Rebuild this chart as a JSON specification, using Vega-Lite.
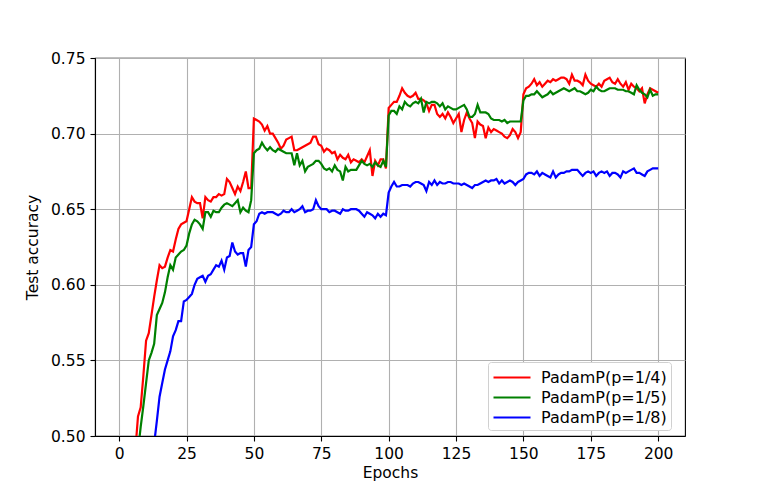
{
"$schema":"https://vega.github.io/schema/vega-lite/v6.json",
"width":590,"height":378,
"autosize":{"type":"none"},
"padding":{"left":95,"top":58,"right":78,"bottom":54},
"background":"white",
"data":{"values":[
{"e":6,"r":0.490,"g":null,"b":null},
{"e":7,"r":0.513,"g":0.490,"b":null},
{"e":8,"r":0.519,"g":0.506,"b":null},
{"e":9,"r":0.540,"g":0.520,"b":null},
{"e":10,"r":0.563,"g":0.535,"b":null},
{"e":11,"r":0.568,"g":0.550,"b":null},
{"e":12,"r":0.580,"g":0.555,"b":null},
{"e":13,"r":0.592,"g":0.561,"b":0.495},
{"e":14,"r":0.603,"g":0.580,"b":0.510},
{"e":15,"r":0.613,"g":0.584,"b":0.526},
{"e":16,"r":0.611,"g":0.588,"b":0.535},
{"e":17,"r":0.612,"g":0.595,"b":0.544},
{"e":18,"r":0.618,"g":0.605,"b":0.550},
{"e":19,"r":0.623,"g":0.613,"b":0.556},
{"e":20,"r":0.622,"g":0.610,"b":0.566},
{"e":21,"r":0.630,"g":0.618,"b":0.570},
{"e":22,"r":0.637,"g":0.620,"b":0.576},
{"e":23,"r":0.640,"g":0.622,"b":0.576},
{"e":24,"r":0.641,"g":0.623,"b":0.589},
{"e":25,"r":0.642,"g":0.626,"b":0.590},
{"e":26,"r":0.650,"g":0.634,"b":0.592},
{"e":27,"r":0.658,"g":0.640,"b":0.594},
{"e":28,"r":0.655,"g":0.643,"b":0.600},
{"e":29,"r":0.654,"g":0.642,"b":0.604},
{"e":30,"r":0.654,"g":0.640,"b":0.605},
{"e":31,"r":0.644,"g":0.637,"b":0.606},
{"e":32,"r":0.658,"g":0.648,"b":0.602},
{"e":33,"r":0.656,"g":0.648,"b":0.606},
{"e":34,"r":0.655,"g":0.645,"b":0.607},
{"e":35,"r":0.658,"g":0.649,"b":0.610},
{"e":36,"r":0.658,"g":0.648,"b":0.613},
{"e":37,"r":0.660,"g":0.648,"b":0.612},
{"e":38,"r":0.659,"g":0.651,"b":0.616},
{"e":39,"r":0.660,"g":0.653,"b":0.610},
{"e":40,"r":0.670,"g":0.654,"b":0.618},
{"e":41,"r":0.668,"g":0.653,"b":0.619},
{"e":42,"r":0.664,"g":0.652,"b":0.628},
{"e":43,"r":0.660,"g":0.654,"b":0.622},
{"e":44,"r":0.665,"g":0.656,"b":0.620},
{"e":45,"r":0.662,"g":0.648,"b":0.621},
{"e":46,"r":0.668,"g":0.651,"b":0.621},
{"e":47,"r":0.675,"g":0.649,"b":0.612},
{"e":48,"r":0.664,"g":0.648,"b":0.623},
{"e":49,"r":0.664,"g":0.656,"b":0.625},
{"e":50,"r":0.710,"g":0.687,"b":0.640},
{"e":51,"r":0.709,"g":0.689,"b":0.642},
{"e":52,"r":0.708,"g":0.690,"b":0.647},
{"e":53,"r":0.706,"g":0.694,"b":0.648},
{"e":54,"r":0.702,"g":0.691,"b":0.647},
{"e":55,"r":0.705,"g":0.689,"b":0.648},
{"e":56,"r":0.700,"g":0.691,"b":0.648},
{"e":57,"r":0.700,"g":0.689,"b":0.648},
{"e":58,"r":0.697,"g":0.688,"b":0.647},
{"e":59,"r":0.694,"g":0.690,"b":0.646},
{"e":60,"r":0.690,"g":0.689,"b":0.647},
{"e":61,"r":0.692,"g":0.688,"b":0.649},
{"e":62,"r":0.696,"g":0.687,"b":0.648},
{"e":63,"r":0.697,"g":0.687,"b":0.648},
{"e":64,"r":0.698,"g":0.687,"b":0.650},
{"e":65,"r":0.689,"g":0.679,"b":0.648},
{"e":66,"r":0.689,"g":0.687,"b":0.649},
{"e":67,"r":0.690,"g":0.679,"b":0.650},
{"e":68,"r":0.691,"g":0.682,"b":0.652},
{"e":69,"r":0.692,"g":0.675,"b":0.648},
{"e":70,"r":0.693,"g":0.678,"b":0.649},
{"e":71,"r":0.694,"g":0.679,"b":0.649},
{"e":72,"r":0.698,"g":0.680,"b":0.650},
{"e":73,"r":0.698,"g":0.682,"b":0.656},
{"e":74,"r":0.693,"g":0.682,"b":0.652},
{"e":75,"r":0.692,"g":0.680,"b":0.650},
{"e":76,"r":0.688,"g":0.677,"b":0.650},
{"e":77,"r":0.690,"g":0.676,"b":0.650},
{"e":78,"r":0.689,"g":0.677,"b":0.648},
{"e":79,"r":0.687,"g":0.675,"b":0.649},
{"e":80,"r":0.688,"g":0.679,"b":0.649},
{"e":81,"r":0.683,"g":0.676,"b":0.648},
{"e":82,"r":0.686,"g":0.675,"b":0.647},
{"e":83,"r":0.684,"g":0.669,"b":0.650},
{"e":84,"r":0.683,"g":0.678,"b":0.649},
{"e":85,"r":0.686,"g":0.675,"b":0.649},
{"e":86,"r":0.681,"g":0.676,"b":0.650},
{"e":87,"r":0.683,"g":0.676,"b":0.650},
{"e":88,"r":0.682,"g":0.676,"b":0.650},
{"e":89,"r":0.681,"g":0.679,"b":0.649},
{"e":90,"r":0.683,"g":0.682,"b":0.647},
{"e":91,"r":0.681,"g":0.680,"b":0.645},
{"e":92,"r":0.685,"g":0.679,"b":0.648},
{"e":93,"r":0.689,"g":0.680,"b":0.647},
{"e":94,"r":0.672,"g":0.678,"b":0.646},
{"e":95,"r":0.682,"g":0.681,"b":0.644},
{"e":96,"r":0.679,"g":0.679,"b":0.647},
{"e":97,"r":0.683,"g":0.678,"b":0.645},
{"e":98,"r":0.683,"g":0.682,"b":0.647},
{"e":99,"r":0.677,"g":0.678,"b":0.646},
{"e":100,"r":0.717,"g":0.712,"b":0.661},
{"e":101,"r":0.719,"g":0.715,"b":0.665},
{"e":102,"r":0.721,"g":0.715,"b":0.668},
{"e":103,"r":0.721,"g":0.713,"b":0.665},
{"e":104,"r":0.725,"g":0.718,"b":0.665},
{"e":105,"r":0.730,"g":0.716,"b":0.666},
{"e":106,"r":0.727,"g":0.721,"b":0.666},
{"e":107,"r":0.725,"g":0.719,"b":0.666},
{"e":108,"r":0.724,"g":0.718,"b":0.665},
{"e":109,"r":0.725,"g":0.720,"b":0.667},
{"e":110,"r":0.727,"g":0.721,"b":0.668},
{"e":111,"r":0.723,"g":0.720,"b":0.668},
{"e":112,"r":0.723,"g":0.723,"b":0.667},
{"e":113,"r":0.722,"g":0.714,"b":0.666},
{"e":114,"r":0.720,"g":0.721,"b":0.662},
{"e":115,"r":0.715,"g":0.720,"b":0.668},
{"e":116,"r":0.719,"g":0.721,"b":0.666},
{"e":117,"r":0.719,"g":0.721,"b":0.669},
{"e":118,"r":0.713,"g":0.720,"b":0.666},
{"e":119,"r":0.711,"g":0.718,"b":0.668},
{"e":120,"r":0.713,"g":0.720,"b":0.667},
{"e":121,"r":0.710,"g":0.716,"b":0.667},
{"e":122,"r":0.714,"g":0.718,"b":0.668},
{"e":123,"r":0.711,"g":0.717,"b":0.668},
{"e":124,"r":0.707,"g":0.716,"b":0.667},
{"e":125,"r":0.710,"g":0.716,"b":0.667},
{"e":126,"r":0.713,"g":0.717,"b":0.667},
{"e":127,"r":0.701,"g":0.718,"b":0.666},
{"e":128,"r":0.709,"g":0.719,"b":0.667},
{"e":129,"r":0.714,"g":0.716,"b":0.666},
{"e":130,"r":0.710,"g":0.711,"b":0.665},
{"e":131,"r":0.707,"g":0.711,"b":0.664},
{"e":132,"r":0.697,"g":0.713,"b":0.666},
{"e":133,"r":0.708,"g":0.719,"b":0.666},
{"e":134,"r":0.706,"g":0.714,"b":0.667},
{"e":135,"r":0.705,"g":0.714,"b":0.668},
{"e":136,"r":0.697,"g":0.714,"b":0.669},
{"e":137,"r":0.704,"g":0.713,"b":0.668},
{"e":138,"r":0.701,"g":0.710,"b":0.669},
{"e":139,"r":0.703,"g":0.709,"b":0.669},
{"e":140,"r":0.702,"g":0.709,"b":0.670},
{"e":141,"r":0.701,"g":0.709,"b":0.667},
{"e":142,"r":0.700,"g":0.708,"b":0.669},
{"e":143,"r":0.698,"g":0.709,"b":0.667},
{"e":144,"r":0.697,"g":0.707,"b":0.668},
{"e":145,"r":0.699,"g":0.708,"b":0.669},
{"e":146,"r":0.703,"g":0.708,"b":0.668},
{"e":147,"r":0.701,"g":0.708,"b":0.666},
{"e":148,"r":0.697,"g":0.708,"b":0.668},
{"e":149,"r":0.701,"g":0.708,"b":0.669},
{"e":150,"r":0.726,"g":0.722,"b":0.670},
{"e":151,"r":0.730,"g":0.725,"b":0.673},
{"e":152,"r":0.731,"g":0.725,"b":0.674},
{"e":153,"r":0.733,"g":0.726,"b":0.674},
{"e":154,"r":0.736,"g":0.726,"b":0.673},
{"e":155,"r":0.732,"g":0.728,"b":0.675},
{"e":156,"r":0.734,"g":0.726,"b":0.672},
{"e":157,"r":0.731,"g":0.724,"b":0.674},
{"e":158,"r":0.733,"g":0.725,"b":0.673},
{"e":159,"r":0.735,"g":0.726,"b":0.672},
{"e":160,"r":0.734,"g":0.728,"b":0.671},
{"e":161,"r":0.736,"g":0.726,"b":0.675},
{"e":162,"r":0.735,"g":0.727,"b":0.671},
{"e":163,"r":0.736,"g":0.728,"b":0.673},
{"e":164,"r":0.737,"g":0.729,"b":0.674},
{"e":165,"r":0.737,"g":0.730,"b":0.674},
{"e":166,"r":0.736,"g":0.729,"b":0.675},
{"e":167,"r":0.733,"g":0.728,"b":0.675},
{"e":168,"r":0.739,"g":0.729,"b":0.676},
{"e":169,"r":0.735,"g":0.730,"b":0.676},
{"e":170,"r":0.735,"g":0.728,"b":0.676},
{"e":171,"r":0.734,"g":0.728,"b":0.674},
{"e":172,"r":0.732,"g":0.727,"b":0.672},
{"e":173,"r":0.739,"g":0.726,"b":0.674},
{"e":174,"r":0.735,"g":0.727,"b":0.675},
{"e":175,"r":0.733,"g":0.729,"b":0.674},
{"e":176,"r":0.732,"g":0.728,"b":0.675},
{"e":177,"r":0.731,"g":0.731,"b":0.672},
{"e":178,"r":0.733,"g":0.729,"b":0.674},
{"e":179,"r":0.731,"g":0.728,"b":0.675},
{"e":180,"r":0.735,"g":0.728,"b":0.674},
{"e":181,"r":0.736,"g":0.729,"b":0.675},
{"e":182,"r":0.737,"g":0.730,"b":0.672},
{"e":183,"r":0.734,"g":0.730,"b":0.674},
{"e":184,"r":0.733,"g":0.730,"b":0.674},
{"e":185,"r":0.736,"g":0.729,"b":0.673},
{"e":186,"r":0.733,"g":0.729,"b":0.671},
{"e":187,"r":0.731,"g":0.729,"b":0.675},
{"e":188,"r":0.734,"g":0.728,"b":0.674},
{"e":189,"r":0.729,"g":0.728,"b":0.675},
{"e":190,"r":0.733,"g":0.727,"b":0.676},
{"e":191,"r":0.731,"g":0.726,"b":0.677},
{"e":192,"r":0.730,"g":0.732,"b":0.674},
{"e":193,"r":0.728,"g":0.729,"b":0.674},
{"e":194,"r":0.730,"g":0.727,"b":0.673},
{"e":195,"r":0.720,"g":0.726,"b":0.672},
{"e":196,"r":0.726,"g":0.724,"b":0.675},
{"e":197,"r":0.730,"g":0.729,"b":0.676},
{"e":198,"r":0.729,"g":0.725,"b":0.677},
{"e":199,"r":0.728,"g":0.726,"b":0.677},
{"e":200,"r":0.727,"g":0.726,"b":0.677}
]},
"transform":[
{"fold":["r","g","b"],"as":["series","acc"]},
{"filter":"datum.acc != null"}
],
"mark":{"type":"line","strokeWidth":2.2,"clip":true},
"encoding":{
"x":{"field":"e","type":"quantitative","scale":{"domain":[-8.95,209.95],"nice":false,"zero":false},"axis":{"values":[0,25,50,75,100,125,150,175,200],"title":"Epochs"}},
"y":{"field":"acc","type":"quantitative","scale":{"domain":[0.5,0.75],"nice":false,"zero":false},"axis":{"values":[0.5,0.55,0.6,0.65,0.7,0.75],"format":".2f","title":"Test accuracy","titlePadding":10}},
"color":{"field":"series","type":"nominal","scale":{"domain":["r","g","b"],"range":["#ff0000","#008000","#0000ff"]},
"legend":{"orient":"none","legendX":393,"legendY":304,"title":null,"symbolType":"M-1,0H2.7","symbolSize":400,"symbolStrokeWidth":2.2,"labelFont":"DejaVu Sans","labelFontSize":16,"labelColor":"black","fillColor":"white","strokeColor":"#d0d0d0","cornerRadius":3,"padding":4,"rowPadding":0,"labelOffset":26,
"labelExpr":"datum.label == 'r' ? 'PadamP(p=1/4)' : datum.label == 'g' ? 'PadamP(p=1/5)' : 'PadamP(p=1/8)'"}}
},
"config":{
"view":{"stroke":"black","strokeWidth":1.1},
"axis":{"labelFont":"DejaVu Sans","labelFontSize":15.5,"labelColor":"black","titleFont":"DejaVu Sans","titleFontSize":15.5,"titleFontWeight":"normal","titleColor":"black","tickColor":"black","tickSize":5,"tickWidth":1.1,"domainColor":"black","domainWidth":1.1,"gridColor":"#b0b0b0","gridWidth":1.1,"labelPadding":5}
}
}
